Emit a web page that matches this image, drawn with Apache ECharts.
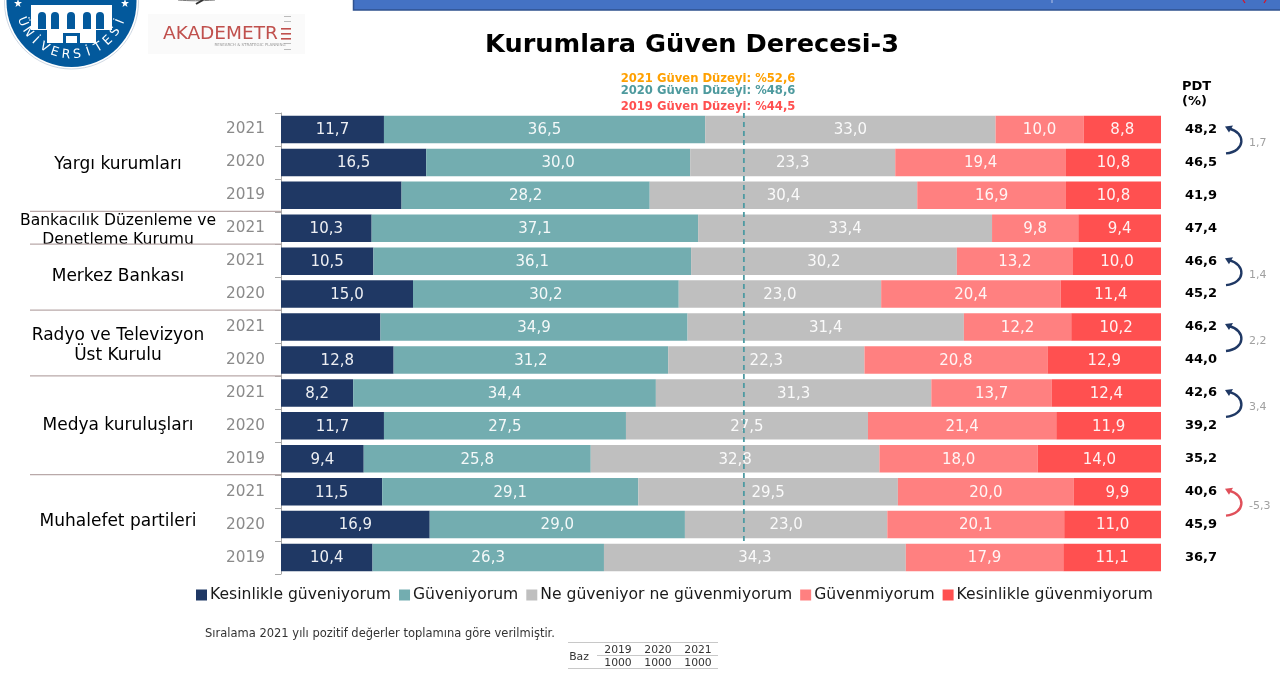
<!DOCTYPE html>
<html><head><meta charset="utf-8">
<style>html,body{margin:0;padding:0;background:#fff}#c{width:1280px;height:675px}</style>
<script src="https://cdn.jsdelivr.net/npm/echarts@6/dist/echarts.min.js"></script>
</head><body><div id="c"></div>
<script>
const years = ['2021','2020','2019','2021','2021','2020','2021','2020','2021','2020','2019','2021','2020','2019'];
const seriesNames = ['Kesinlikle güveniyorum','Güveniyorum','Ne güveniyor ne güvenmiyorum','Güvenmiyorum','Kesinlikle güvenmiyorum'];
const colors = ['#1F3864','#73ADB0','#BFBFBF','#FF8080','#FF5050'];
const strongTrust = [11.7,16.5,13.7,10.3,10.5,15.0,11.3,12.8,8.2,11.7,9.4,11.5,16.9,10.4];
const trust       = [36.5,30.0,28.2,37.1,36.1,30.2,34.9,31.2,34.4,27.5,25.8,29.1,29.0,26.3];
const neutral     = [33.0,23.3,30.4,33.4,30.2,23.0,31.4,22.3,31.3,27.5,32.8,29.5,23.0,34.3];
const distrust    = [10.0,19.4,16.9,9.8,13.2,20.4,12.2,20.8,13.7,21.4,18.0,20.0,20.1,17.9];
const strongDistrust = [8.8,10.8,10.8,9.4,10.0,11.4,10.2,12.9,12.4,11.9,14.0,9.9,11.0,11.1];
const hiddenFirstLabels = [2,6];
const pdt = ['48,2','46,5','41,9','47,4','46,6','45,2','46,2','44,0','42,6','39,2','35,2','40,6','45,9','36,7'];
const pdtChanges = [[0,'1,7'],[4,'1,4'],[6,'2,2'],[8,'3,4'],[11,'-5,3']];
const groups = [['Yargı kurumları',165],['Merkez Bankası',277],['Medya kuruluşları',426],['Muhalefet partileri',522]];
const separators = [3,4,6,8,11];
const trustLevel2021 = 52.6;
const levels = [['2021 Güven Düzeyi: %52,6','#FFA000',79],['2020 Güven Düzeyi: %48,6','#4E9A9E',91],['2019 Güven Düzeyi: %44,5','#FF5050',107]];
const bazYears = ['2019','2020','2021'];
const bazValues = ['1000','1000','1000'];
const FONT = 'DejaVu Sans';

const allValues = [strongTrust,trust,neutral,distrust,strongDistrust];
const chart = echarts.init(document.getElementById('c'),null,{renderer:'canvas'});
const series = allValues.map((vals,s)=>({
  name:seriesNames[s],type:'bar',stack:'a',barWidth:27.5,xAxisIndex:0,yAxisIndex:0,
  itemStyle:{color:colors[s]},
  label:{show:true,position:'inside',offset:[0,1],color:'#fff',fontFamily:FONT,fontSize:15,opacity:.92,
    formatter:p=>p.value.toFixed(1).replace('.',',')},
  data:vals.map((v,i)=>(s===0&&hiddenFirstLabels.includes(i))?{value:v,label:{show:false}}:v),
  z:2
}));
series.push({type:'bar',yAxisIndex:1,xAxisIndex:0,data:[],silent:true});
chart.setOption({
  animation:false,backgroundColor:'#fff',
  grid:{left:281,top:113,width:880,height:461,containLabel:false},
  xAxis:{type:'value',min:0,max:100,show:false},
  yAxis:[
    {type:'category',inverse:true,data:years,
     axisLine:{lineStyle:{color:'#a6a6a6'}},axisTick:{show:true,length:6,lineStyle:{color:'#a6a6a6'}},
     axisLabel:{color:'#8a8a8a',fontFamily:FONT,fontSize:15.3,margin:16,padding:[2,0,0,0]},splitLine:{show:false}},
    {type:'category',inverse:true,position:'right',data:pdt,
     axisLine:{show:false},axisTick:{show:false},
     axisLabel:{color:'#000',fontFamily:FONT,fontSize:13,fontWeight:'bold',margin:24,padding:[0,0,8,0]}}
  ],
  legend:{data:seriesNames,left:191,top:582,itemWidth:11,itemHeight:11,itemGap:8,icon:'rect',
    textStyle:{color:'#1a1a1a',fontFamily:FONT,fontSize:15.6,padding:[0,0,0,-2]}},
  series
});

const px = v=>chart.convertToPixel({xAxisIndex:0},v);
const rowY = i=>chart.convertToPixel({yAxisIndex:0},i);
const rowH = 461/years.length;
const edge = i=>113+rowH*i-1;
const g = [];
const text=(t,x,y,o={})=>g.push({type:'text',silent:true,z:o.z||10,x,y,style:{text:t,fill:o.fill||'#000',
  fontFamily:FONT,fontSize:o.size||15,fontWeight:o.weight||'normal',align:o.align||'center',verticalAlign:'middle'}});
const rect=(x,y,w,h,fill,o={})=>g.push({type:'rect',silent:true,z:o.z||10,shape:{x,y,width:w,height:h,r:o.r||0},style:{fill,stroke:o.stroke,lineWidth:o.lw}});
const line=(x1,y1,x2,y2,stroke,lw,dash,z)=>g.push({type:'line',silent:true,z:z||10,shape:{x1,y1,x2,y2},style:{stroke,lineWidth:lw||1,lineDash:dash}});

// top band
rect(353.5,-2,928,12,'#4472C4',{stroke:'#2F528F',lw:1.5});
line(1052,0,1052,3,'#8fa9dc',1.5);
line(1243,0,1245,3,'#e01020',1.2,null,11);
line(1266,0,1264,3,'#e01020',1.2,null,11);
g.push({type:'bezierCurve',silent:true,z:11,shape:{x1:178,y1:0,cpx1:190,cpy1:1,cpx2:200,cpy2:1,x2:215,y2:0},style:{stroke:'#777',fill:'none',lineWidth:1}});
line(196,4,203,0,'#333',2,null,11);

// university seal
g.push({type:'circle',silent:true,z:10,shape:{cx:71.5,cy:2,r:67},style:{fill:'#fff',stroke:'#cfd8e3',lineWidth:1}});
g.push({type:'circle',silent:true,z:10,shape:{cx:71.5,cy:2,r:65},style:{fill:'#03599C'}});
rect(31,5,81,25,'#fff',{z:11});
rect(47,30,49,13,'#fff',{z:11});
[38,51,67,83,96].forEach(x=>rect(x,12,8,17,'#03599C',{z:12,r:[4,4,0,0]}));
rect(63,33,17,10,'#03599C',{z:12});
rect(66,36,11,7,'#fff',{z:13});
[[18,3],[125,3]].forEach(p=>g.push({type:'polygon',silent:true,z:12,x:p[0],y:p[1],shape:{points:[[0,-4],[1,-1],[4,-1],[1.6,1],[2.5,4],[0,2.2],[-2.5,4],[-1.6,1],[-4,-1],[-1,-1]]},style:{fill:'#fff'}}));
const seal='ÜNİVERSİTESİ'.split('');
seal.forEach((c,i)=>{
  const a=(158-i*(136/(seal.length-1)))*Math.PI/180, r=53;
  g.push({type:'text',silent:true,z:12,x:71.5+r*Math.cos(a),y:2+r*Math.sin(a),rotation:Math.PI/2-a,
    style:{text:c,fill:'#fff',fontFamily:FONT,fontSize:12.5,align:'center',verticalAlign:'middle'}});
});
// Akademetre logo
rect(148,14,157,40,'#fafafa');
text('AKADEMETR',163,34,{size:18.5,fill:'#C0504D',align:'left'});
[28,33,38].forEach(y=>rect(281,y,10,1.6,'#C0504D'));
[16,21,43,49].forEach(y=>rect(284,y,7,1,'#bbbbbb'));
text('RESEARCH & STRATEGIC PLANNING',250,45,{size:4,fill:'#999'});

// title & levels
text('Kurumlara Güven Derecesi-3',692,45,{size:25.6,weight:'bold'});
levels.forEach(l=>text(l[0],708,l[2],{size:11.6,weight:'bold',fill:l[1]}));
text('PDT',1182,87,{size:13,weight:'bold',align:'left'});
text('(%)',1182,102,{size:13,weight:'bold',align:'left'});

// group labels & separators
groups.forEach(a=>text(a[0],118,a[1],{size:17}));
text('Bankacılık Düzenleme ve',118,221,{size:15.6});
text('Denetleme Kurumu',118,240,{size:15.6});
rect(20,244,240,8,'#fff',{z:11});
text('Radyo ve Televizyon',118,336,{size:17});
text('Üst Kurulu',118,356,{size:17});
separators.forEach(i=>line(30,edge(i)+.5,281,edge(i)+.5,'#b9a9a9',1.2,null,12));

// dashed mean line
line(px(trustLevel2021),113,px(trustLevel2021),541,'#4E9AA2',1.8,[5,4],15);

// PDT change arrows
pdtChanges.forEach(([i,t])=>{
  const y1=rowY(i)-2,y2=rowY(i+1)-9, col=t[0]==='-'?'#E0505A':'#1F3864';
  g.push({type:'bezierCurve',silent:true,z:10,shape:{x1:1226,y1:y2,cpx1:1246,cpy1:y2-2,cpx2:1246,cpy2:y1+5,x2:1229,y2:y1+1},style:{stroke:col,fill:'none',lineWidth:2.4}});
  g.push({type:'polygon',silent:true,z:10,shape:{points:[[1225,y1-1],[1233,y1-2],[1229,y1+5]]},style:{fill:col}});
  text(t,1249,(y1+y2)/2+3,{size:11,fill:'#a0a0a0',align:'left'});
});

// footnote & base table
text('Sıralama 2021 yılı pozitif değerler toplamına göre verilmiştir.',205,634,{size:11.5,align:'left',fill:'#333'});
line(568,642.5,718,642.5,'#c8c8c8',1.2);
line(597,655.5,718,655.5,'#c8c8c8',1.2);
line(568,668.5,718,668.5,'#c8c8c8',1.2);
text('Baz',579,657,{size:10.8,fill:'#333'});
bazYears.forEach((y,i)=>{const x=[618,658,698][i];text(y,x,650,{size:10.8,fill:'#333'});text(bazValues[i],x,663,{size:10.8,fill:'#333'});});
chart.setOption({graphic:{elements:g}});
</script></body></html>
